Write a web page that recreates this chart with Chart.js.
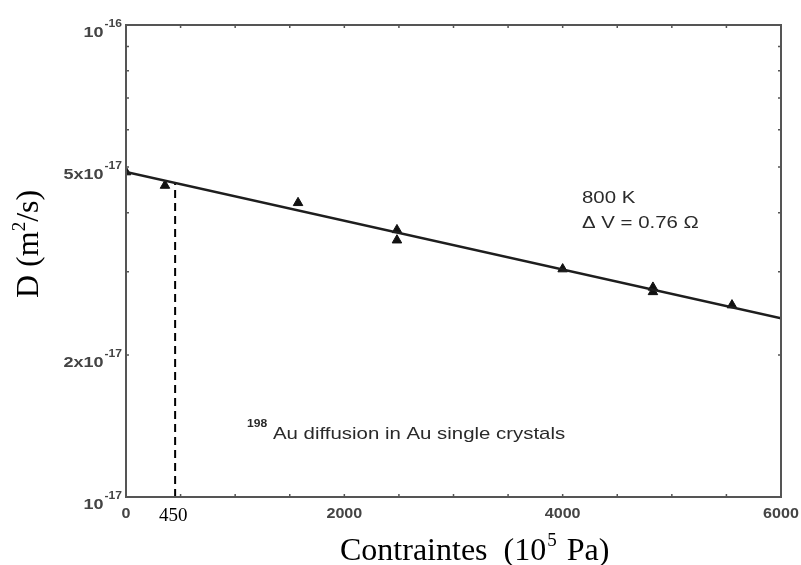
<!DOCTYPE html>
<html>
<head>
<meta charset="utf-8">
<script src="https://cdn.jsdelivr.net/npm/chart.js@4"></script>
<style>
    body { margin: 0; background: #fff; }
</style>
</head>
<body>
<canvas id="diffusion" width="801" height="565"></canvas>
<script>
// donnees
const pression = [0, 357, 1576, 2482, 2482, 4000, 4827, 4827, 5551];
const diffusion = [4.88e-17, 4.57e-17, 4.2e-17, 3.68e-17, 3.5e-17, 3.04e-17, 2.78e-17, 2.72e-17, 2.55e-17];
const fitX = [0, 6000];
const fitD = [4.88e-17, 2.39e-17];
const repereX = [450, 450];
const repereD = [1e-17, 4.63e-17];
const xTicks = [0, 2000, 4000, 6000];
const xMinor = [500, 1000, 1500, 2500, 3000, 3500, 4500, 5000, 5500];
const yTicks = [1e-16, 5e-17, 2e-17, 1e-17];
const yLabels = [['10', '-16'], ['5x10', '-17'], ['2x10', '-17'], ['10', '-17']];
const yMinor = [3e-17, 4e-17, 6e-17, 7e-17, 8e-17, 9e-17];

const toPoints = (xs, ys) => xs.map((x, i) => ({ x: x, y: ys[i] }));

// texte etire horizontalement comme sur le scan
function texte(ctx, str, x, y, font, align, sx) {
    ctx.save();
    ctx.font = font;
    const w = ctx.measureText(str).width * sx;
    let x0 = x;
    if (align === 'center') x0 = x - w / 2;
    if (align === 'right') x0 = x - w;
    ctx.translate(x0, y);
    ctx.scale(sx, 1);
    ctx.textAlign = 'left';
    ctx.fillText(str, 0, 0);
    ctx.restore();
    return w;
}

function largeur(ctx, str, font, sx) {
    ctx.save();
    ctx.font = font;
    const w = ctx.measureText(str).width * sx;
    ctx.restore();
    return w;
}

const cadre = {
    id: 'cadre',
    afterDatasetsDraw(chart) {
        const ctx = chart.ctx;
        const a = chart.chartArea;
        const xs = chart.scales.x;
        const ys = chart.scales.y;
        const sansY = 'bold 15px "Liberation Sans"';
        const sansX = 'bold 14px "Liberation Sans"';
        const sansSup = 'bold 11px "Liberation Sans"';
        const serif = '"Liberation Serif"';

        ctx.save();
        ctx.strokeStyle = '#555';
        ctx.lineWidth = 2;
        ctx.strokeRect(a.left, a.top, a.right - a.left, a.bottom - a.top);

        // petites graduations vers l'interieur
        ctx.lineWidth = 1.5;
        ctx.beginPath();
        xTicks.concat(xMinor).forEach(v => {
            const px = xs.getPixelForValue(v);
            ctx.moveTo(px, a.bottom); ctx.lineTo(px, a.bottom - 3);
            ctx.moveTo(px, a.top); ctx.lineTo(px, a.top + 3);
        });
        yTicks.concat(yMinor).forEach(v => {
            const py = ys.getPixelForValue(v);
            ctx.moveTo(a.left, py); ctx.lineTo(a.left + 3, py);
            ctx.moveTo(a.right, py); ctx.lineTo(a.right - 3, py);
        });
        ctx.stroke();

        ctx.fillStyle = '#444';
        ctx.textBaseline = 'alphabetic';

        // etiquettes de l'axe y
        yTicks.forEach((v, i) => {
            const py = ys.getPixelForValue(v);
            const wb = largeur(ctx, yLabels[i][0], sansY, 1.2);
            const ws = largeur(ctx, yLabels[i][1], sansSup, 1.1);
            const x0 = 121 - wb - ws;
            texte(ctx, yLabels[i][0], x0, py + 12, sansY, 'left', 1.2);
            texte(ctx, yLabels[i][1], x0 + wb + 1, py + 2, sansSup, 'left', 1.1);
        });

        // etiquettes de l'axe x
        xTicks.forEach(v => {
            const px = xs.getPixelForValue(v);
            texte(ctx, String(v), px, a.bottom + 21, sansX, 'center', 1.15);
        });

        ctx.fillStyle = '#000';
        texte(ctx, '450', xs.getPixelForValue(repereX[0]) - 2, a.bottom + 24, '19px ' + serif, 'center', 1);

        // annotations
        ctx.fillStyle = '#2a2a2a';
        const ann = '17px "Liberation Sans"';
        texte(ctx, '800 K', 582, 203, ann, 'left', 1.2);
        texte(ctx, '\u0394 V = 0.76 \u03a9', 582, 228, ann, 'left', 1.2);
        texte(ctx, '198', 247, 427, 'bold 11px "Liberation Sans"', 'left', 1.1);
        texte(ctx, 'Au diffusion in Au single crystals', 273, 439, ann, 'left', 1.2);

        // titres des axes
        ctx.fillStyle = '#000';
        const f32 = '32px ' + serif;
        const f19 = '19px ' + serif;
        let x = 340;
        x += texte(ctx, 'Contraintes  (10', x, 560, f32, 'left', 1);
        x += texte(ctx, '5', x + 1, 546, f19, 'left', 1) + 3;
        texte(ctx, ' Pa)', x, 560, f32, 'left', 1);

        ctx.translate(38, 242);
        ctx.rotate(-Math.PI / 2);
        let y = -56;
        y += texte(ctx, 'D (m', y, 0, f32, 'left', 1);
        y += texte(ctx, '2', y, -13, f19, 'left', 1);
        texte(ctx, '/s)', y, 0, f32, 'left', 1);
        ctx.restore();
    }
};

const ctx = document.getElementById('diffusion').getContext('2d');
const graphDiffusion = new Chart(ctx, {
    type: 'scatter',
    data: {
        datasets: [
            {
                label: 'ajustement',
                data: toPoints(fitX, fitD),
                showLine: true,
                borderColor: '#1e1e1e',
                borderWidth: 2.5,
                pointRadius: 0
            },
            {
                label: '450',
                data: toPoints(repereX, repereD),
                showLine: true,
                borderColor: '#000',
                borderWidth: 2,
                borderDash: [8, 5],
                pointRadius: 0
            },
            {
                label: 'mesures',
                data: toPoints(pression, diffusion),
                pointStyle: 'triangle',
                pointRadius: 5.5,
                backgroundColor: '#111',
                borderColor: '#111',
                borderWidth: 1
            }
        ]
    },
    options: {
        responsive: false,
        animation: false,
        layout: { padding: { left: 126, top: 25, right: 20, bottom: 68 } },
        scales: {
            x: { type: 'linear', min: 0, max: 6000, display: false },
            y: { type: 'logarithmic', min: 1e-17, max: 1e-16, display: false }
        },
        plugins: {
            legend: { display: false },
            tooltip: { enabled: false }
        }
    },
    plugins: [cadre]
});
</script>
</body>
</html>
